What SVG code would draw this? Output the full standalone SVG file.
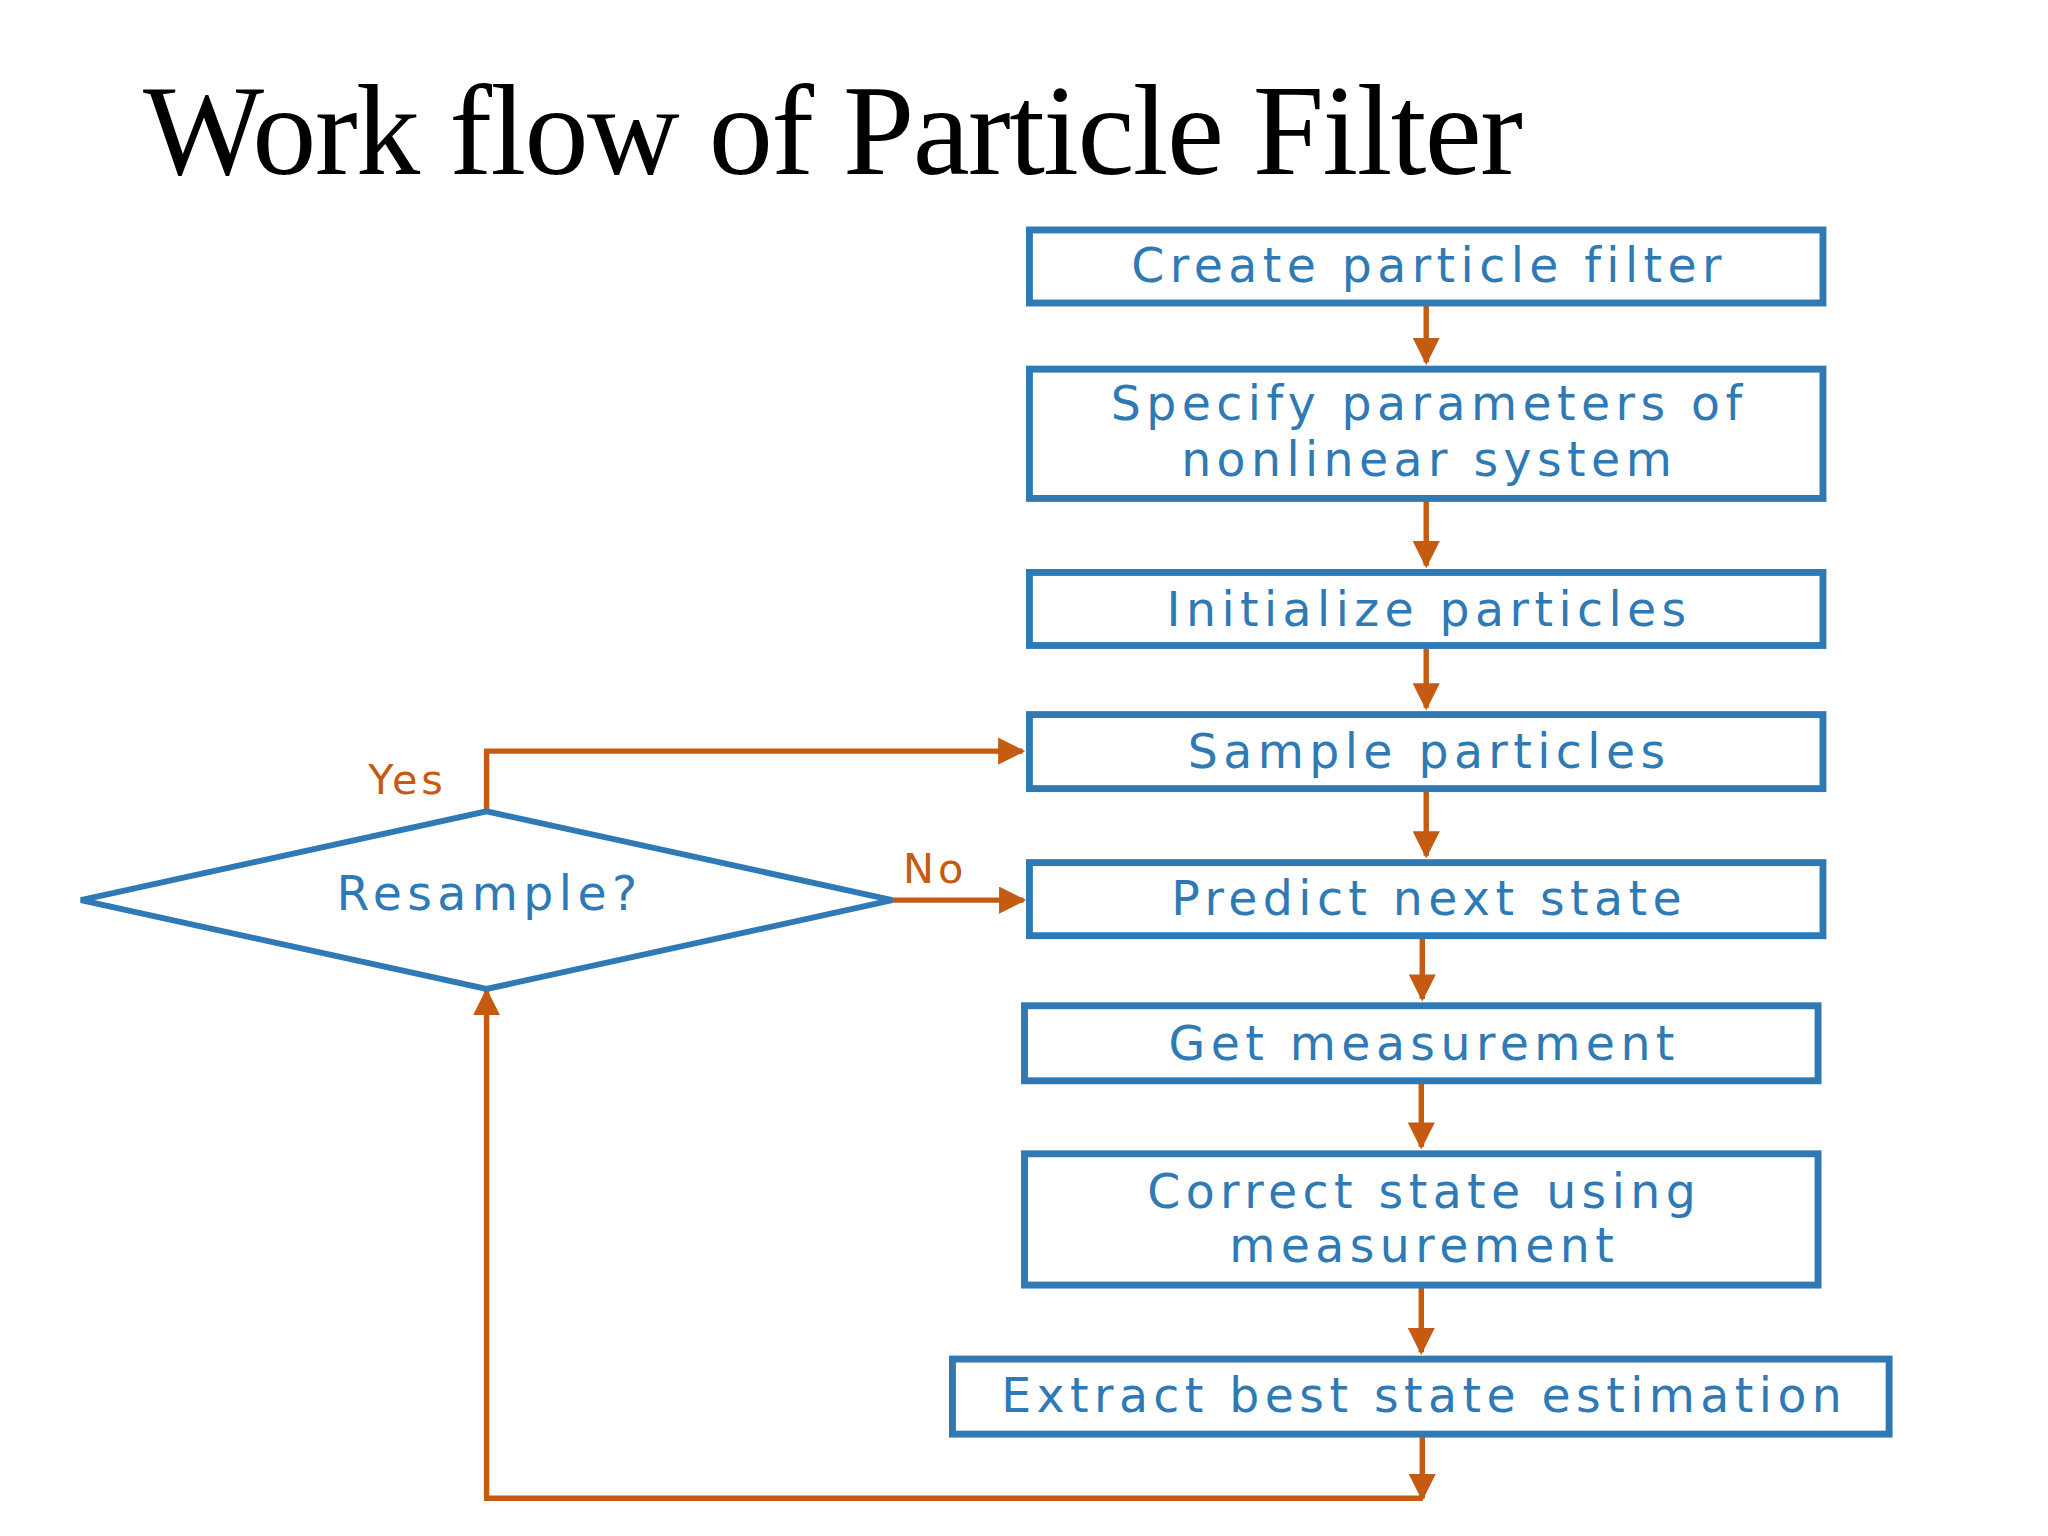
<svg xmlns="http://www.w3.org/2000/svg" width="2048" height="1536" viewBox="0 0 2048 1536">
<style>
.box{fill:#fff;stroke:#2f7ab5;stroke-width:7}
.t{font-family:"DejaVu Sans",Verdana,sans-serif;font-size:48px;letter-spacing:5.5px;fill:#2f7ab5;text-anchor:middle}
.c{stroke:#c55a11;stroke-width:5.5;fill:none}
.l{font-family:"DejaVu Sans",Verdana,sans-serif;font-size:42px;letter-spacing:4px;fill:#c55a11}
</style>
<defs><marker id="a" viewBox="0 0 10 10" refX="9" refY="5" markerWidth="5" markerHeight="5" orient="auto" markerUnits="strokeWidth"><path d="M0,0L10,5L0,10z" fill="#c55a11"/></marker></defs>
<rect width="2048" height="1536" fill="#fff"/>
<g transform="scale(0.987)">
<text x="145" y="176" font-family="Liberation Serif,serif" font-size="130" textLength="1398" fill="#000">Work flow of Particle Filter</text>
<g id="connectors">
<path class="c" marker-end="url(#a)" d="M1445,307V367"/>
<path class="c" marker-end="url(#a)" d="M1445,505V573"/>
<path class="c" marker-end="url(#a)" d="M1445,654V717"/>
<path class="c" marker-end="url(#a)" d="M1445,799V867"/>
<path class="c" marker-end="url(#a)" d="M1441,948V1012"/>
<path class="c" marker-end="url(#a)" d="M1440,1095V1162"/>
<path class="c" marker-end="url(#a)" d="M1440,1302V1370"/>
<path class="c" marker-end="url(#a)" d="M1441,1453V1518"/>
<path class="c" marker-end="url(#a)" d="M1441,1518H493V1004"/>
<path class="c" marker-end="url(#a)" d="M493,822V761H1036"/>
<path class="c" marker-end="url(#a)" d="M904,912H1037"/>
</g>
<g id="n1"><rect class="box" x="1043" y="233" width="804" height="74"/><text class="t" x="1448" y="286">Create particle filter</text></g>
<g id="n2"><rect class="box" x="1043" y="374" width="804" height="131"/><text class="t" x="1448" y="426">Specify parameters of</text><text class="t" x="1448" y="482">nonlinear system</text></g>
<g id="n3"><rect class="box" x="1043" y="580" width="804" height="74"/><text class="t" x="1448" y="634">Initialize particles</text></g>
<g id="n4"><rect class="box" x="1043" y="724" width="804" height="75"/><text class="t" x="1448" y="778">Sample particles</text></g>
<g id="n5"><rect class="box" x="1043" y="874" width="804" height="74"/><text class="t" x="1448" y="927">Predict next state</text></g>
<g id="n6"><rect class="box" x="1038" y="1019" width="804" height="76"/><text class="t" x="1443" y="1074">Get measurement</text></g>
<g id="n7"><rect class="box" x="1038" y="1169" width="804" height="133"/><text class="t" x="1443" y="1224">Correct state using</text><text class="t" x="1443" y="1279">measurement</text></g>
<g id="n8"><rect class="box" x="965" y="1377" width="949" height="76"/><text class="t" x="1443" y="1431">Extract best state estimation</text></g>
<g id="d"><path d="M82,912L493,822L904,912L493,1002Z" fill="#fff" stroke="#2f7ab5" stroke-width="6"/><text class="t" x="496" y="922">Resample?</text></g>
<text class="l" x="373" y="804">Yes</text>
<text class="l" x="915" y="895">No</text>
</g>
</svg>
